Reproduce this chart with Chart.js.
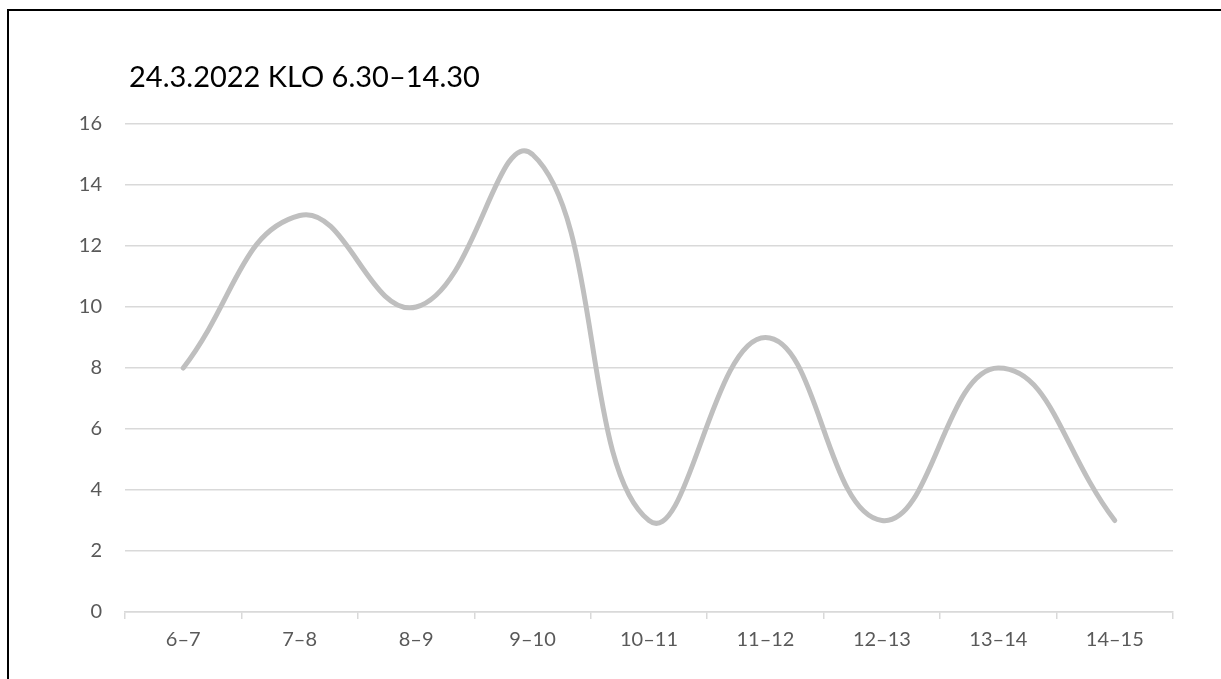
<!DOCTYPE html>
<html>
<head>
<meta charset="utf-8">
<script src="https://cdn.jsdelivr.net/npm/chart.js@4/dist/chart.umd.min.js"></script>
<style>
  html, body { margin: 0; padding: 0; background: #fff; }
  #wrap { position: relative; width: 1221px; height: 679px; overflow: hidden; }
  #frame { position: absolute; left: 7px; top: 9px; right: -10px; bottom: -10px;
           border-left: 2px solid #000; border-top: 2px solid #000; }
  canvas { position: absolute; left: 0; top: 0; }
</style>
</head>
<body>
<div id="wrap">
  <div id="frame"></div>
  <canvas id="myChart" width="1221" height="679"></canvas>
</div>
<script>
var titleText = '24.3.2022 KLO 6.30–14.30';
var labels = ['6–7', '7–8', '8–9', '9–10', '10–11', '11–12', '12–13', '13–14', '14–15'];
var counts = [8, 13, 10, 15, 3, 9, 3, 8, 3];

// title drawn over the plot, left-aligned like the original
var titlePlugin = {
  id: 'leftTitle',
  afterDraw: function(chart) {
    var ctx = chart.ctx;
    ctx.save();
    ctx.font = '29px Lato';
    ctx.fillStyle = '#000';
    ctx.textBaseline = 'alphabetic';
    ctx.fillText(titleText, chart.chartArea.left + 4, 87);
    ctx.restore();
  }
};

var ctx = document.getElementById('myChart').getContext('2d');
var chart = new Chart(ctx, {
  type: 'line',
  data: {
    labels: labels,
    datasets: [{
      data: counts,
      borderColor: '#bfbfbf',
      borderWidth: 5,
      tension: 0.45,
      pointRadius: 0,
      borderCapStyle: 'round',
      fill: false
    }]
  },
  options: {
    responsive: false,
    animation: false,
    layout: { padding: { top: 124, right: 48, bottom: 0, left: 0 } },
    plugins: {
      legend: { display: false },
      tooltip: { enabled: false }
    },
    scales: {
      x: {
        offset: true,
        afterFit: function(scale) { scale.height = 67; },
        grid: {
          offset: true,
          drawOnChartArea: false,
          drawTicks: true,
          tickLength: 7,
          color: '#d9d9d9',
          lineWidth: 1.5
        },
        border: { display: true, color: '#d9d9d9', width: 1.5 },
        ticks: { color: '#595959', font: { family: 'Lato', size: 20 }, padding: 9, maxRotation: 0 }
      },
      y: {
        min: 0,
        max: 16,
        afterFit: function(scale) { scale.width = 125; },
        grid: { color: '#d9d9d9', lineWidth: 1.5, drawTicks: false },
        border: { display: false },
        ticks: { stepSize: 2, color: '#595959', font: { family: 'Lato', size: 20 }, padding: 23 }
      }
    }
  },
  plugins: [titlePlugin]
});
</script>
</body>
</html>
